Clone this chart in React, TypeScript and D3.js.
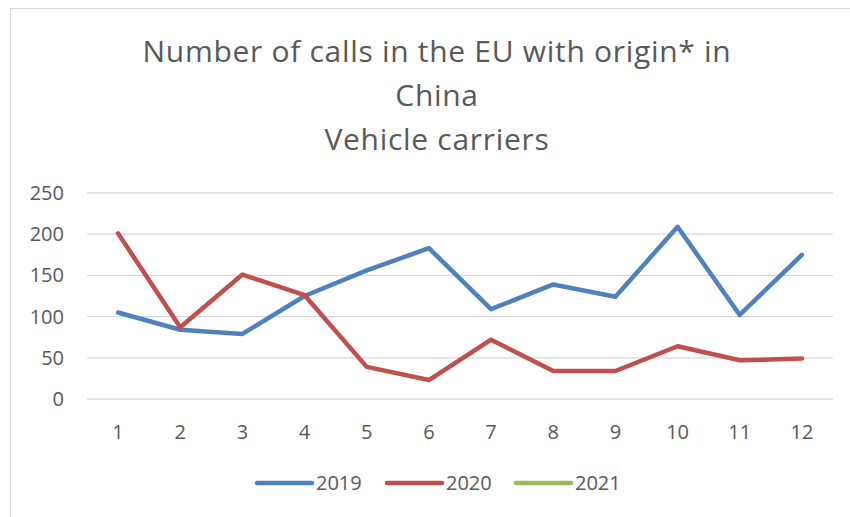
import React from "react";
import * as d3 from "d3";

const months = ["1", "2", "3", "4", "5", "6", "7", "8", "9", "10", "11", "12"];
const series2019 = [105, 84, 79, 125, 156, 183, 109, 139, 124, 209, 102, 175];
const series2020 = [201, 87, 151, 126, 39, 23, 72, 34, 34, 64, 47, 49];
const series2021: number[] = [];
const yTicks = [0, 50, 100, 150, 200, 250];
const titleLines = ["Number of calls in the EU with origin* in", "China", "Vehicle carriers"];
const seriesNames = ["2019", "2020", "2021"];
const seriesColors = ["#4f81bd", "#c0504d", "#9bbb59"];

export default function App() {
  const W = 850;
  const H = 517;
  const left = 87;
  const right = 833;
  const top = 193;
  const bottom = 399;
  const x = d3.scaleBand<string>().domain(months).range([left, right]);
  const y = d3.scaleLinear().domain([0, 250]).range([bottom, top]);
  const line = d3
    .line<number>()
    .x((_, i) => (x(months[i]) as number) + x.bandwidth() / 2)
    .y((d) => y(d));
  const all = [series2019, series2020, series2021];
  const font = "'Open Sans', sans-serif";
  const txt = "#595959";
  const legendX = [257, 387, 516];
  return (
    <svg
      width={W}
      height={H}
      style={{ position: "absolute", left: 0, top: 0 }}
      fontFamily={font}
    >
      <rect x={0} y={0} width={W} height={H} fill="#fff" />
      <rect x={10.5} y={8.5} width={W + 20} height={H + 20} fill="#fff" stroke="#d9d9d9" strokeWidth={1} />
      {titleLines.map((t, i) => (
        <text
          key={i}
          x={437}
          y={61.5 + i * 44}
          textAnchor="middle"
          fontSize={30}
          letterSpacing={0.7}
          fill={txt}
        >
          {t}
        </text>
      ))}
      {yTicks.map((t) => (
        <g key={t}>
          <line x1={left} x2={right} y1={y(t)} y2={y(t)} stroke="#d9d9d9" strokeWidth={1.3} />
          <text x={64} y={y(t)} dy="0.35em" textAnchor="end" fontSize={20} fill={txt}>
            {t}
          </text>
        </g>
      ))}
      {months.map((m) => (
        <text
          key={m}
          x={(x(m) as number) + x.bandwidth() / 2}
          y={439}
          textAnchor="middle"
          fontSize={20}
          fill={txt}
        >
          {m}
        </text>
      ))}
      {all.map((s, i) =>
        s.length ? (
          <path
            key={i}
            d={line(s) || ""}
            fill="none"
            stroke={seriesColors[i]}
            strokeWidth={4.5}
            strokeLinejoin="round"
            strokeLinecap="round"
          />
        ) : null
      )}
      {seriesNames.map((n, i) => (
        <g key={n}>
          <line
            x1={legendX[i]}
            x2={legendX[i] + 55}
            y1={483}
            y2={483}
            stroke={seriesColors[i]}
            strokeWidth={4.5}
            strokeLinecap="round"
          />
          <text x={legendX[i] + 59} y={483} dy="0.35em" fontSize={20} fill={txt}>
            {n}
          </text>
        </g>
      ))}
    </svg>
  );
}
